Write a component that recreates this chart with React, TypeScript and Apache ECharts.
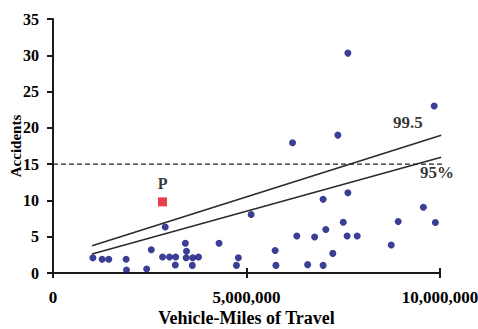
import React, { useEffect, useRef } from "react";
import * as echarts from "echarts";

const xTicks = [0, 5000000, 10000000];
const yTicks = [0, 5, 10, 15, 20, 25, 30, 35];

// Observed sites: [vehicle-miles, accidents]
const sites: [number, number][] = [
  [1030000, 2.1], [1270000, 1.9], [1440000, 1.9], [1890000, 1.9], [1900000, 0.4],
  [2420000, 0.55], [2540000, 3.2], [2900000, 6.35], [2830000, 2.2], [3010000, 2.2],
  [3170000, 2.2], [3160000, 1.1], [3420000, 4.1], [3450000, 3.0], [3440000, 2.1],
  [3610000, 2.1], [3760000, 2.2], [3600000, 1.05], [4290000, 4.1], [4790000, 2.1],
  [4740000, 1.05], [5120000, 8.05], [5740000, 3.1], [5760000, 1.05], [6300000, 5.1],
  [6580000, 1.15], [6760000, 4.95], [6980000, 10.15], [7050000, 6.0], [6980000, 1.05],
  [7230000, 2.7], [7500000, 7.0], [7620000, 11.05], [7600000, 5.1], [7860000, 5.1],
  [8740000, 3.85], [8920000, 7.1], [9570000, 9.05], [9880000, 6.95], [7620000, 30.3],
  [9850000, 23.0], [7360000, 19.0], [6190000, 17.95],
];

const siteP: [number, number][] = [[2830000, 9.8]];

const limit995: [number, number][] = [[1010000, 3.76], [10030000, 18.97]];
const limit95: [number, number][] = [[1010000, 2.62], [10030000, 15.94]];
const thresholdLine: [number, number][] = [[0, 15], [10260000, 15]];

const annotations = [
  { name: "99.5", value: [9170000, 20.8] },
  { name: "95%", value: [9920000, 13.9] },
];

const FONT = "'Liberation Serif', 'Times New Roman', serif";

export default function App() {
  const ref = useRef<HTMLDivElement>(null);
  useEffect(() => {
    document.body.style.margin = "0";
    const chart = echarts.init(ref.current!, null, { renderer: "svg" });
    const axisColor = "#1a1a1a";
    chart.setOption({
      animation: false,
      backgroundColor: "#fff",
      grid: {
        left: 53,
        right: 38,
        top: 19,
        bottom: 56,
        containLabel: false,
        outerBoundsMode: "none",
      },
      xAxis: [
        {
          type: "value",
          min: 0,
          max: 10000000,
          interval: 5000000,
          name: "Vehicle-Miles of Travel",
          nameLocation: "middle",
          nameGap: 36,
          nameMoveOverlap: false,
          nameTextStyle: { fontFamily: FONT, fontWeight: "bold", fontSize: 18, color: "#000" },
          axisLine: { lineStyle: { color: axisColor, width: 2 } },
          axisTick: { show: true, length: 5, lineStyle: { color: axisColor, width: 2 } },
          axisLabel: {
            margin: 16,
            fontFamily: FONT,
            fontWeight: "bold",
            fontSize: 17,
            color: "#000",
            formatter: (v: number) =>
              xTicks.includes(v) ? v.toLocaleString("en-US") : "",
          },
          splitLine: { show: false },
        },
        {
          type: "value",
          position: "bottom",
          min: 0,
          max: 10000000,
          interval: 5000000,
          axisLine: { show: false },
          axisTick: { show: true, inside: true, length: 5, lineStyle: { color: axisColor, width: 2 } },
          axisLabel: { show: false },
          splitLine: { show: false },
        },
      ],
      yAxis: {
        type: "value",
        min: 0,
        max: 35,
        interval: 5,
        name: "Accidents",
        nameLocation: "middle",
        nameGap: 30,
        nameMoveOverlap: false,
        nameTextStyle: { fontFamily: FONT, fontWeight: "bold", fontSize: 15, color: "#000" },
        axisLine: { show: true, lineStyle: { color: axisColor, width: 2 } },
        axisTick: { show: true, length: 6, lineStyle: { color: axisColor, width: 2 } },
        axisLabel: {
          margin: 14,
          fontFamily: FONT,
          fontWeight: "bold",
          fontSize: 16,
          color: "#000",
          formatter: (v: number) => (yTicks.includes(v) ? String(v) : ""),
        },
        splitLine: { show: false },
      },
      series: [
        {
          type: "line",
          data: thresholdLine,
          clip: false,
          symbol: "none",
          lineStyle: { color: "#222", width: 1.2, type: [5, 3] },
          z: 2,
        },
        {
          type: "line",
          data: limit995,
          symbol: "none",
          lineStyle: { color: "#2a2a2a", width: 1.5 },
          z: 2,
        },
        {
          type: "line",
          data: limit95,
          symbol: "none",
          lineStyle: { color: "#2a2a2a", width: 1.5 },
          z: 2,
        },
        {
          type: "scatter",
          data: sites,
          symbolSize: 7,
          itemStyle: { color: "#0a0e7a" },
          z: 3,
        },
        {
          type: "scatter",
          data: siteP,
          symbol: "rect",
          symbolSize: 9,
          itemStyle: { color: "#e60f1e" },
          label: {
            show: true,
            position: "top",
            distance: 6,
            formatter: "P",
            fontFamily: FONT,
            fontWeight: "bold",
            fontSize: 16,
            color: "#000",
          },
          z: 3,
        },
        {
          type: "scatter",
          data: annotations,
          symbolSize: 1,
          itemStyle: { color: "rgba(0,0,0,0)" },
          label: {
            show: true,
            position: "inside",
            formatter: "{b}",
            fontFamily: FONT,
            fontWeight: "bold",
            fontSize: 17,
            color: "#000",
          },
          z: 4,
        },
      ],
    });
    return () => chart.dispose();
  }, []);
  return <div ref={ref} style={{ width: 478, height: 329 }} />;
}
